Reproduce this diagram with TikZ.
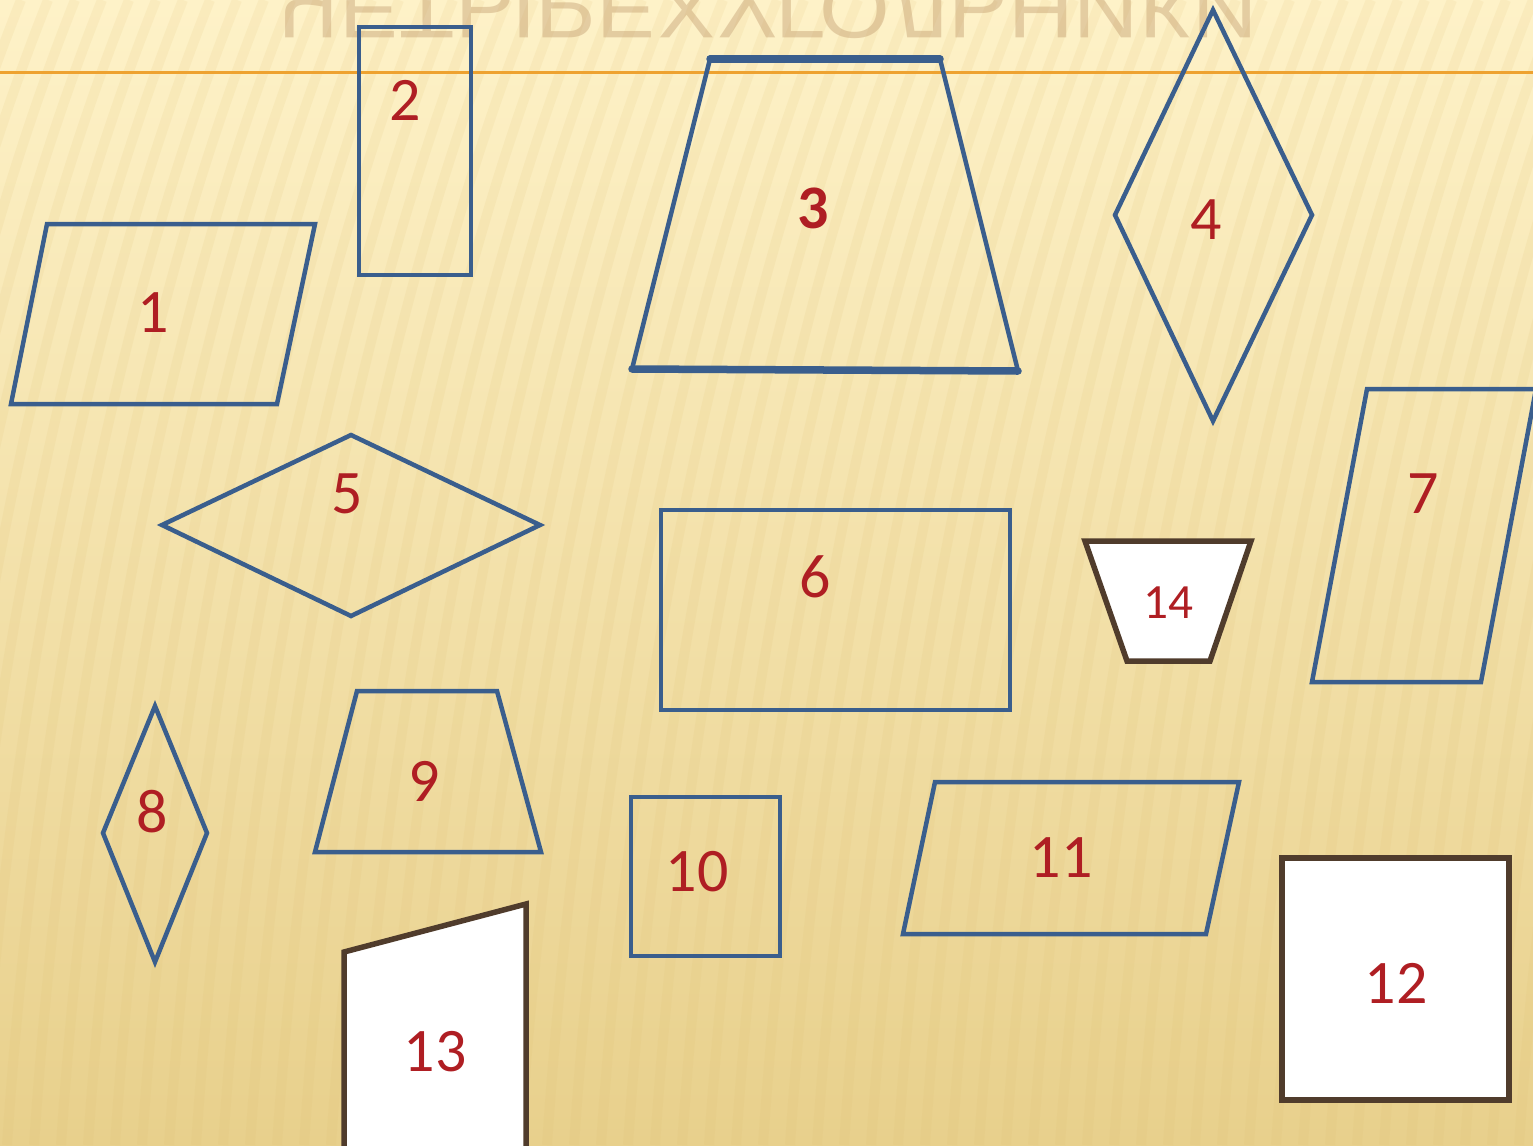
\documentclass[tikz,border=0pt]{standalone}
\usepackage{fontspec}
\newfontfamily\numfont{Carlito}
\newfontfamily\titlefont{Liberation Sans}
\definecolor{bgtop}{RGB}{254,242,200}
\definecolor{bgmid}{RGB}{251,235,188}
\definecolor{bgbot}{RGB}{232,208,140}
\definecolor{stripe}{RGB}{222,190,112}
\definecolor{shapeblue}{RGB}{58,94,141}
\definecolor{framebrown}{RGB}{80,60,44}
\definecolor{numred}{RGB}{175,30,35}
\definecolor{rulec}{RGB}{238,162,48}
\definecolor{titlec}{RGB}{190,150,105}
\begin{document}
\begin{tikzpicture}[x=0.01cm,y=-0.01cm,
  shapeline/.style={draw=shapeblue,line width=0.045cm},
  thickedge/.style={draw=shapeblue,line width=0.075cm,line cap=round},
  whitefig/.style={draw=framebrown,line width=0.055cm,fill=white},
  num/.style={text=numred,font=\numfont\fontsize{17.6}{18}\selectfont,inner sep=0pt},
  smallnum/.style={text=numred,font=\numfont\fontsize{14}{15}\selectfont,inner sep=0pt},
  stripeline/.style={draw=stripe,line width=0.1cm,opacity=0.12}]
\clip (0,0) rectangle (1533,1145);
% background
\shade[top color=bgtop, middle color=bgmid, bottom color=bgbot] (0,0) rectangle (1533,1145);
\foreach \i in {0,...,75} {
  \draw[stripeline] ({\i*27-60},0) .. controls ({\i*27-180},300) and ({\i*27-260},700) .. ({\i*27-290},1145);
}
% faded reflected title
\node[font=\titlefont\fontsize{23.7}{24}\selectfont, text=titlec, opacity=0.4,
  inner sep=0pt, anchor=base, xscale=1.09, yscale=-1, transform shape] (title) at (768,-20) {ЧЕТЫРЕХУГОЛЬНИКИ};
% orange rule
\draw[rulec, line width=0.03cm] (0,72) -- (1533,72);

% 1 parallelogram
\draw[shapeline] (47,224) -- (315,224) -- (277,404) -- (11,404) -- cycle;
\node[num] (n1) at (153,313) {1};
% 2 rectangle
\draw[shapeline] (359,27) rectangle (471,275);
\node[num] (n2) at (405,100) {2};
% 3 trapezoid
\draw[shapeline] (710,59) -- (940,59) -- (1018,371) -- (632,369) -- cycle;
\draw[thickedge] (710,59) -- (940,59);
\draw[thickedge] (632,369) -- (1018,371);
\node[num, font=\numfont\bfseries\fontsize{17.6}{18}\selectfont] (n3) at (813,208) {3};
% 4 rhombus
\draw[shapeline] (1213,10) -- (1312,215) -- (1213,421) -- (1115,215) -- cycle;
\node[num] (n4) at (1206,220) {4};
% 5 rhombus
\draw[shapeline] (162,525) -- (351,435) -- (540,525) -- (351,616) -- cycle;
\node[num] (n5) at (347,494) {5};
% 6 rectangle
\draw[shapeline] (661,510) rectangle (1010,710);
\node[num] (n6) at (815,577) {6};
% 7 parallelogram
\draw[shapeline] (1367,389) -- (1536,389) -- (1481,682) -- (1312,682) -- cycle;
\node[num] (n7) at (1423,494) {7};
% 8 rhombus
\draw[shapeline] (155,706) -- (207,833) -- (155,962) -- (103,833) -- cycle;
\node[num] (n8) at (152,812) {8};
% 9 trapezoid
\draw[shapeline] (357,691) -- (497,691) -- (541,852) -- (315,852) -- cycle;
\node[num] (n9) at (424,781) {9};
% 10 rectangle
\draw[shapeline] (631,797) rectangle (780,956);
\node[num] (n10) at (697,872) {10};
% 11 parallelogram
\draw[shapeline] (935,782) -- (1239,782) -- (1206,934) -- (903,934) -- cycle;
\node[num] (n11) at (1061,858) {11};
% 12 square (white)
\draw[whitefig] (1282,858) rectangle (1509,1100);
\node[num] (n12) at (1396,983) {12};
% 13 quadrilateral (white)
\draw[whitefig] (344,952) -- (526,904) -- (526,1170) -- (344,1170) -- cycle;
\node[num] (n13) at (435,1052) {13};
% 14 trapezoid (white)
\draw[whitefig] (1085,541) -- (1251,541) -- (1210,661) -- (1127,661) -- cycle;
\node[smallnum] (n14) at (1168,603) {14};
\end{tikzpicture}
\end{document}
